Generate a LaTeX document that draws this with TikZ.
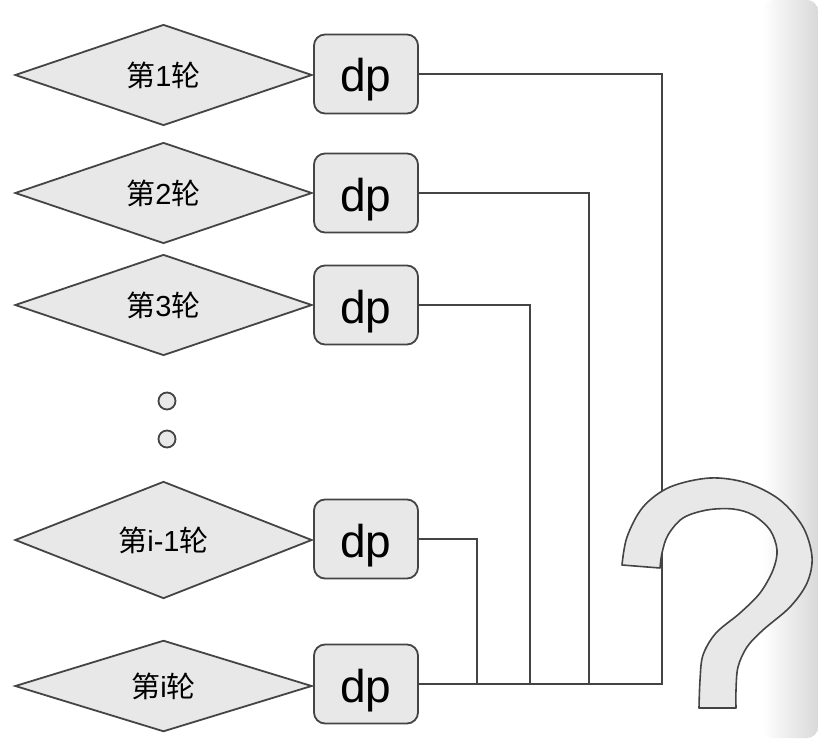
\documentclass[tikz,border=0pt]{standalone}
\usepackage{fontspec}
\setmainfont{Liberation Sans}
\newfontfamily\cjk{Noto Sans CJK SC}
\usetikzlibrary{shapes.geometric}
\definecolor{boxfill}{HTML}{E8E8E8}
\definecolor{boxline}{HTML}{444444}
\newcommand{\lun}[1]{{\cjk 第}#1{\cjk 轮}}
\tikzset{
  lunbox/.style={shape=diamond, draw=boxline, fill=boxfill, line width=1.8,
    minimum width=297, minimum height=90, inner sep=0pt,
    font=\fontsize{29}{32}\selectfont},
  dpbox/.style={rectangle, rounded corners=11, draw=boxline, fill=boxfill,
    line width=1.8, minimum width=104, minimum height=79, inner sep=0pt,
    text height=40pt, text depth=4pt,
    font=\fontsize{46}{50}\selectfont},
  dotc/.style={circle, draw=boxline, fill=boxfill, line width=1.8,
    minimum size=17, inner sep=0pt},
  wire/.style={draw=boxline, line width=1.8},
}
\begin{document}
\begin{tikzpicture}[x=1pt, y=-1pt]
    \useasboundingbox (0,0) rectangle (818,738);
    % shadow strip on the right
    \shade[left color=white, right color=black!15, rounded corners=11] (762,0) rectangle (818,738);
    % rounds and dp boxes
    \node[lunbox] (r1) at (163.5,75) {\lun{1}};
    \node[lunbox] (r2) at (163.5,193) {\lun{2}};
    \node[lunbox] (r3) at (163.5,305) {\lun{3}};
    \node[lunbox] (rm) at (163.5,540) {\lun{i-1}};
    \node[lunbox] (ri) at (163.5,686) {\lun{i}};
    \node[dpbox] (dp1) at (366,74) {dp};
    \node[dpbox] (dp2) at (366,193) {dp};
    \node[dpbox] (dp3) at (366,305) {dp};
    \node[dpbox] (dpm) at (366,539) {dp};
    \node[dpbox] (dpi) at (366,684) {dp};
    \node[dotc] (d1) at (167,401) {};
    \node[dotc] (d2) at (167,439) {};
    % wires down to the last dp
    \coordinate (c1) at (662,684);
    \coordinate (c2) at (589,684);
    \coordinate (c3) at (530,684);
    \coordinate (c4) at (477,684);
    \draw[wire] (dp1.east) -| (c1) -- (dpi.east);
    \draw[wire] (dp2.east) -| (c2);
    \draw[wire] (dp3.east) -| (c3);
    \draw[wire] (dpm.east) -| (c4);
    % the question mark
    \filldraw[draw=boxline, fill=boxfill, line width=1.6, line join=round]
      (660,568) -- (622,565)
      -- plot[smooth, tension=0.55] coordinates {(622,565) (627,537) (643,507) (670,487) (710,478)
         (747,483) (780,500) (803,527) (812,557) (807,583) (790,607) (763,630) (747,647)
         (738,667) (736,690) (736,708)}
      -- (699,708)
      -- plot[smooth, tension=0.55] coordinates {(699,708) (700,680) (703,655) (716,633) (740,613)
         (760,593) (773,570) (777,550) (770,530) (753,515) (733,509) (707,510) (683,518)
         (668,535) (662,553) (660,568)}
      -- cycle;
\end{tikzpicture}
\end{document}
